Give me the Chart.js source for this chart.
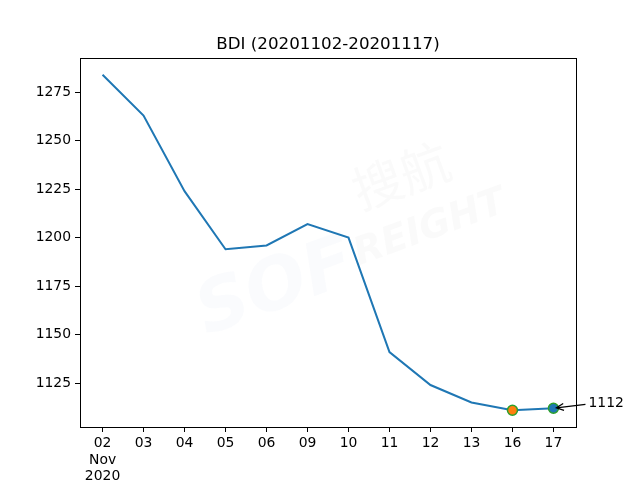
<!DOCTYPE html>
<html>
<head>
<meta charset="utf-8">
<script src="https://cdn.jsdelivr.net/npm/chart.js@4"></script>
<style>
html,body{margin:0;padding:0;background:#fff;}
canvas{display:block;}
</style>
</head>
<body>
<canvas id="c" width="640" height="480"></canvas>
<script>
const dayLabels = ['02', '03', '04', '05', '06', '09', '10', '11', '12', '13', '16', '17'];
const firstLabelExtra = ['Nov', '2020'];
const bdiValues = [1284, 1263, 1224, 1194, 1196, 1207, 1200, 1141, 1124, 1115, 1111, 1112];
const yTickValues = [1125, 1150, 1175, 1200, 1225, 1250, 1275];
const minIndex = 10;   // marked minimum (16th)
const lastIndex = 11;  // marked last point (17th)
const titleText = 'BDI (20201102-20201117)';

const FONT = 'DejaVu Sans';
const lineData = bdiValues.map((v, i) => ({x: i, y: v}));
const vMin = Math.min(...bdiValues), vMax = Math.max(...bdiValues);
const yPad = (vMax - vMin) * 0.05;
const n = dayLabels.length;
const xPad = (n - 1) * 0.05;

const framePlugin = {
  id: 'frame',
  beforeDatasetsDraw(chart) {
    const ctx = chart.ctx, a = chart.chartArea;
    ctx.save();
    ctx.beginPath(); ctx.rect(a.left, a.top, a.right - a.left, a.bottom - a.top); ctx.clip();
    const cx = (a.left + a.right) / 2 + 5, cy = (a.top + a.bottom) / 2 - 5;
    ctx.translate(cx, cy);
    ctx.rotate(-20 * Math.PI / 180);
    ctx.textBaseline = 'middle';
    ctx.font = 'italic bold 72px "' + FONT + '"';
    ctx.fillStyle = 'rgba(225,235,245,0.18)';
    ctx.textAlign = 'right';
    ctx.fillText('SOF', 10, 30);
    ctx.font = '50px "Noto Sans CJK SC"';
    ctx.fillStyle = 'rgba(215,215,215,0.12)';
    ctx.textAlign = 'left';
    ctx.fillText('搜航', 35, -35);
    ctx.font = 'italic bold 38px "' + FONT + '"';
    ctx.fillText('REIGHT', 15, 25);
    ctx.restore();
  },
  afterDraw(chart) {
    const ctx = chart.ctx, a = chart.chartArea;
    ctx.save();
    ctx.strokeStyle = '#000';
    ctx.lineWidth = 1;
    ctx.strokeRect(Math.round(a.left) + 0.5, Math.round(a.top) + 0.5,
                   Math.round(a.right - a.left), Math.round(a.bottom - a.top));
    // title centred over the plot area
    ctx.font = '16.7px "' + FONT + '"';
    ctx.fillStyle = '#000';
    ctx.textAlign = 'center';
    ctx.textBaseline = 'bottom';
    ctx.fillText(titleText, (a.left + a.right) / 2, a.top - 5);
    // annotation for last value
    const xs = chart.scales.x, ys = chart.scales.y;
    const px = xs.getPixelForValue(lastIndex), py = ys.getPixelForValue(bdiValues[lastIndex]);
    const tx = px + 35, ty = py - 5;
    ctx.font = '13.9px "' + FONT + '"';
    ctx.textAlign = 'left';
    ctx.textBaseline = 'middle';
    ctx.fillText(String(bdiValues[lastIndex]), tx, ty);
    const sx = tx - 3, sy = ty + 1;
    const ex = px + 3, ey = py - 0.5;
    ctx.beginPath();
    ctx.moveTo(sx, sy); ctx.lineTo(ex, ey);
    const ang = Math.atan2(ey - sy, ex - sx);
    const L = 8, W = 0.45;
    ctx.moveTo(ex - L * Math.cos(ang - W), ey - L * Math.sin(ang - W));
    ctx.lineTo(ex, ey);
    ctx.lineTo(ex - L * Math.cos(ang + W), ey - L * Math.sin(ang + W));
    ctx.lineWidth = 1.3;
    ctx.stroke();
    ctx.restore();
  }
};

new Chart(document.getElementById('c'), {
  type: 'line',
  data: {
    datasets: [
      {
        data: lineData,
        borderColor: '#1f77b4',
        borderWidth: 2,
        pointRadius: 0,
        tension: 0,
        order: 2
      },
      {
        data: [{x: minIndex, y: bdiValues[minIndex]}],
        showLine: false,
        pointRadius: 5,
        pointBackgroundColor: '#ff7f0e',
        pointBorderColor: '#2ca02c',
        pointBorderWidth: 1.5,
        order: 1
      },
      {
        data: [{x: lastIndex, y: bdiValues[lastIndex]}],
        showLine: false,
        pointRadius: 5,
        pointBackgroundColor: '#1f77b4',
        pointBorderColor: '#2ca02c',
        pointBorderWidth: 1.5,
        order: 0
      }
    ]
  },
  options: {
    responsive: false,
    animation: false,
    events: [],
    layout: {padding: {left: 0, right: 64, top: 58, bottom: 0}},
    plugins: {
      legend: {display: false},
      tooltip: {enabled: false},
      title: {display: false}
    },
    scales: {
      x: {
        type: 'linear',
        min: -xPad,
        max: (n - 1) + xPad,
        afterBuildTicks(scale) {
          scale.ticks = dayLabels.map((_, i) => ({value: i}));
        },
        afterFit(scale) { scale.height = 53; },
        ticks: {
          autoSkip: false,
          maxRotation: 0,
          color: '#000',
          padding: 3,
          font: {family: FONT, size: 13.9, lineHeight: 1.2},
          callback(v) {
            const i = Math.round(v);
            return i === 0 ? [dayLabels[0], ...firstLabelExtra] : dayLabels[i];
          }
        },
        grid: {drawOnChartArea: false, drawTicks: true, tickLength: 5, color: '#000'},
        border: {display: false}
      },
      y: {
        type: 'linear',
        min: vMin - yPad,
        max: vMax + yPad,
        afterBuildTicks(scale) {
          scale.ticks = yTickValues.map(v => ({value: v}));
        },
        afterFit(scale) { scale.width = 80; },
        ticks: {
          color: '#000',
          padding: 4,
          font: {family: FONT, size: 13.9},
          callback(v) { return String(v); }
        },
        grid: {drawOnChartArea: false, drawTicks: true, tickLength: 5, color: '#000'},
        border: {display: false}
      }
    }
  },
  plugins: [framePlugin]
});
</script>
</body>
</html>
